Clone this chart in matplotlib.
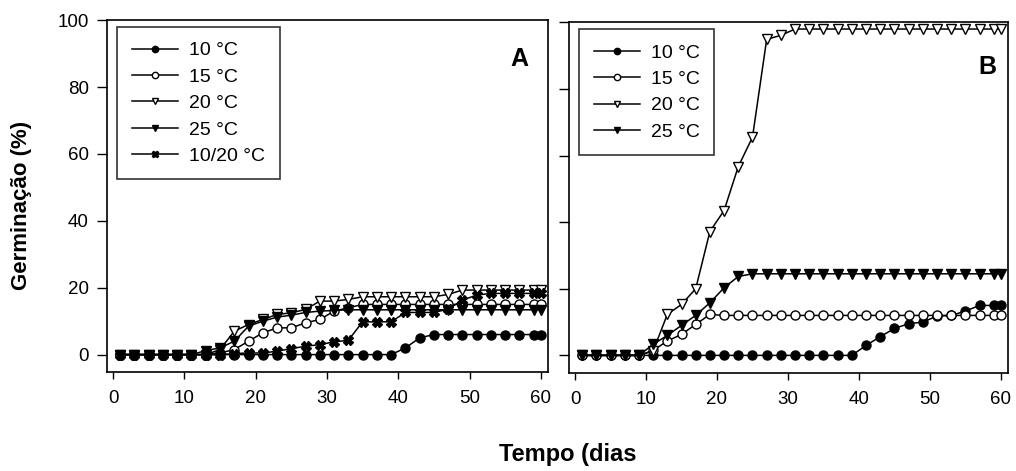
import numpy as np
import matplotlib
matplotlib.use('Agg')
import matplotlib.pyplot as plt

plt.rcParams['font.family'] = ['Liberation Sans', 'DejaVu Sans']

# days sampled (every second day, last one day 60)
dias = [1, 3, 5, 7, 9, 11, 13, 15, 17, 19, 21, 23, 25, 27, 29, 31, 33, 35, 37, 39,
        41, 43, 45, 47, 49, 51, 53, 55, 57, 59, 60]

# panel A
a_10 = [0]*20 + [2, 5, 6, 6, 6, 6, 6, 6, 6, 6, 6]
a_15 = [0]*7 + [0.5, 1.5, 4, 6.5, 8, 8, 9.5, 10.5, 13, 14, 15, 15] + [15]*12
a_20 = [0]*7 + [1.5, 7, 9, 10.5, 12, 12.5, 13.5, 16, 16, 16.5, 17.3, 17.3,
                17.3, 17.3, 17.3, 17.3, 18, 19.3] + [19.3]*6
a_25 = [0]*6 + [1.2, 2, 4, 8.5, 10, 11.2, 11.8, 12.6, 13, 13.2] + [13.4]*15
a_1020 = [0]*8 + [0.3, 0.5, 0.5, 1, 1.8, 2.5, 3, 3.8, 4.3, 9.8, 9.8, 9.8,
                  12.6, 12.6, 12.6, 13.6, 16.3, 17.8, 18.3, 18.3, 18.3, 18.3, 18.3]

# panel B
b_10 = [0]*20 + [3, 5.6, 8.1, 9.5, 10, 11.8, 12, 13.3, 15, 15, 15]
b_15 = [0]*5 + [1.5, 4.3, 6.3, 9.3, 12.3] + [12]*21
b_20 = [0]*5 + [1.3, 12.3, 15.3, 20, 37.2, 43.5, 56.7, 65.5, 94.9, 96.1] + [98]*16
b_25 = [0]*5 + [3.3, 6, 9, 12, 15.8, 20.3, 23.7, 24.5] + [24.5]*18

rotulos = ['10 °C', '15 °C', '20 °C', '25 °C', '10/20 °C']
estilos = [
    dict(marker='o', mfc='black', mec='black'),
    dict(marker='o', mfc='white', mec='black'),
    dict(marker='v', mfc='white', mec='black'),
    dict(marker='v', mfc='black', mec='black'),
    dict(marker='X', mfc='black', mec='black'),
]

fig = plt.figure(figsize=(10.16, 4.71), dpi=100)
axA = fig.add_axes([107/1016, 1 - 372/471, 441/1016, 352.5/471])
axB = fig.add_axes([569/1016, 1 - 372.7/471, 439/1016, 351/471])


def painel(ax, series, letra, lpos):
    for y, lab, st in zip(series, rotulos, estilos):
        ax.plot(dias, y, color='black', lw=1.1, ms=6.5, mew=1.0, label=lab, **st)
    ax.set_xlim(-0.85, 61.0)
    ax.set_ylim(-5.2, 100.2)
    ax.set_xticks(range(0, 61, 10))
    ax.set_yticks(range(0, 101, 20))
    ax.tick_params(axis='x', direction='out', length=5, width=1, pad=8, labelsize=13.5)
    ax.tick_params(axis='y', direction='out', length=7, width=1, pad=6, labelsize=13.5)
    for s in ax.spines.values():
        s.set_linewidth(1.2)
    leg = ax.legend(loc='upper left', bbox_to_anchor=(0.0227, 0.978), borderaxespad=0,
                    fancybox=False, edgecolor='black', fontsize=14, handlelength=2.4,
                    handletextpad=0.55, labelspacing=0.45, borderpad=0.75, markerscale=0.7)
    leg.get_frame().set_linewidth(1.2)
    ax.text(lpos[0], lpos[1], letra, transform=ax.transAxes, fontsize=18,
            fontweight='bold', ha='center', va='center')


painel(axA, [a_10, a_15, a_20, a_25, a_1020], 'A', (0.934, 0.889))
painel(axB, [b_10, b_15, b_20, b_25], 'B', (0.954, 0.871))
axB.tick_params(axis='y', labelleft=False)

fig.text(22/1016, 1 - 205/471, 'Germinação (%)', rotation=90, fontsize=16,
         fontweight='bold', ha='center', va='center')
fig.text(568/1016, 1 - 455/471, 'Tempo (dias', fontsize=17, fontweight='bold',
         ha='center', va='center')

fig.savefig('out.png', dpi=100)
